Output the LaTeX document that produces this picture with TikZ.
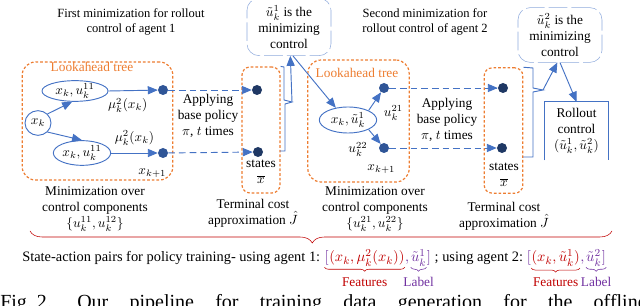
\documentclass[tikz,border=0pt]{standalone}
\usepackage{amsmath}
\usepackage{fontspec}
\setmainfont{Liberation Serif}
\usetikzlibrary{shapes.geometric, arrows, positioning, decorations.pathreplacing}
\definecolor{treeorange}{HTML}{ED7D31}
\definecolor{lineblue}{HTML}{4472C4}
\definecolor{leafblue}{HTML}{2F5597}
\definecolor{dotnavy}{HTML}{1F3864}
\definecolor{cloudblue}{HTML}{8FAADC}
\definecolor{featred}{HTML}{C00000}
\definecolor{labpurple}{HTML}{7030A0}
\tikzset{
    lookbox/.style = {
        rectangle, draw=treeorange,
        line width=0.9pt, dash pattern=on 2pt off 1.5pt,
        rounded corners=10pt
    },
    termbox/.style = {
        rectangle, draw=treeorange,
        line width=0.9pt, dash pattern=on 2pt off 1.5pt,
        rounded corners=6pt
    },
    callout/.style = {
        rectangle, draw=cloudblue, thin,
        dash pattern=on 14pt off 3pt,
        rounded corners=9pt,
        align=center, inner sep=0pt
    },
    stateell/.style = {
        ellipse, draw=lineblue, line width=0.7pt,
        inner sep=0pt
    },
    leaf/.style = {
        circle, fill=leafblue,
        inner sep=0pt, minimum size=7.5pt
    },
    termdot/.style = {
        circle, fill=dotnavy,
        inner sep=0pt, minimum size=7.5pt
    },
    treearrow/.style = {
        -triangle 45, draw=lineblue, line width=0.7pt
    },
    policyarrow/.style = {
        -triangle 45, draw=lineblue, line width=0.7pt,
        dash pattern=on 5pt off 3pt
    },
    bracketline/.style = {
        draw=lineblue, line width=0.7pt
    },
    note/.style = {
        align=center, inner sep=0pt
    },
    seg/.style = {
        inner sep=0pt, anchor=base west
    },
    bigbrace/.style = {
        featred, thin, decorate,
        decoration={brace, mirror, amplitude=9pt, aspect=0.485}
    },
    featbrace/.style = {
        featred, thin, decorate,
        decoration={brace, mirror, amplitude=3pt}
    },
    labbrace/.style = {
        labpurple, thin, decorate,
        decoration={brace, mirror, amplitude=3pt}
    }
}

\begin{document}
\begin{tikzpicture}[x=0.75pt, y=-0.75pt, font=\fontsize{10}{12}\selectfont]

\useasboundingbox (0,0) rectangle (640,306);
\clip (0,0) rectangle (640,306);

% titles and callouts
\node (title1) [note, font=\fontsize{9.4}{11.4}\selectfont] at (131,22) {First minimization for rollout\\control of agent 1};
\node (title2) [note, font=\fontsize{9.4}{11.4}\selectfont] at (425,22) {Second minimization for\\rollout control of agent 2};
\node (cloud1) [callout, minimum width=63pt, minimum height=43pt] at (289,27) {$\tilde{u}_k^1$ is the\\minimizing\\control};
\node (cloud2) [callout, minimum width=63pt, minimum height=41pt] at (560,35) {$\tilde{u}_k^2$ is the\\minimizing\\control};

% first lookahead tree
\node (look1) [lookbox, minimum width=113pt, minimum height=88.5pt] at (97.5,121) {};
\node (looklbl1) [text=treeorange] at (92,67) {Lookahead tree};
\node (xk) [stateell, minimum width=19.5pt, minimum height=18.5pt] at (38,123) {$x_k$};
\node (top1) [stateell, minimum width=49.5pt, minimum height=15.5pt] at (75,91) {$x_k, u_k^{11}$};
\node (bot1) [stateell, minimum width=43pt, minimum height=18.5pt] at (82,153) {$x_k, u_k^{11}$};
\node (leaf1a) [leaf] at (163,90) {};
\node (leaf1b) [leaf] at (163,153) {};
\node (next1) [below=4pt of leaf1b, xshift=-8pt] {$x_{k+1}$};

\draw [treearrow] (xk.north east) -- (top1.255);
\draw [treearrow] (xk.south east) -- (bot1.north);
\draw [treearrow] (top1.east) -- node[below=2pt, xshift=-4pt] {$\mu_k^2(x_k)$} (leaf1a);
\draw [treearrow] (bot1.east) -- node[above=2pt] {$\mu_k^2(x_k)$} (leaf1b);

\node (apply1) [note] at (208,116) {Applying\\base policy\\$\pi$, $t$ times};

% first terminal states
\node (term1) [termbox, minimum width=28.5pt, minimum height=94.5pt] at (261,130) {};
\node (tdot1a) [termdot] at (257,90) {};
\node (tdot1b) [termdot] at (258,152) {};
\node (states1) [note] at (261,172) {states\\$\overline{x}$};
\draw [policyarrow] (leaf1a) -- (tdot1a);
\draw [policyarrow] (leaf1b) -- (tdot1b);

\coordinate (tip1) at (292,102);
\draw [bracketline] (term1.north east) -- (284,67) -- (284,100) -- (tip1) -- (285,104) -- (285,151) -- (280,151);
\draw [treearrow] (tip1) -- ([xshift=1pt]cloud1.south);

% second lookahead tree
\node (look2) [lookbox, minimum width=76pt, minimum height=91.5pt] at (358.5,121) {};
\node (looklbl2) [text=treeorange] at (357,73) {Lookahead tree};
\node (el2) [stateell, minimum width=43pt, minimum height=19.5pt] at (348,120) {$x_k, \tilde{u}_k^1$};
\node (leaf2a) [leaf] at (384,88) {};
\node (leaf2b) [leaf] at (384,148) {};
\node (next2) [below=5pt of leaf2b, xshift=-2pt] {$x_{k+1}$};
\node (u21) [below=6pt of leaf2a, xshift=7pt] {$u_k^{21}$};
\node (u22) [left=5pt of leaf2b, yshift=-1pt] {$u_k^{22}$};

\draw [treearrow] ([xshift=3pt]cloud1.south) -- (el2.135);
\draw [treearrow] (el2.north east) -- (leaf2a);
\draw [treearrow] (el2.south east) -- (leaf2b);

\node (apply2) [note] at (447,120) {Applying\\base policy\\$\pi$, $t$ times};

% second terminal states
\node (term2) [termbox, minimum width=29pt, minimum height=94pt] at (503.5,130.5) {};
\node (tdot2a) [termdot] at (503,88) {};
\node (tdot2b) [termdot] at (502,148) {};
\node (states2) [note] at (504,175) {states\\$\overline{x}$};
\draw [policyarrow] (leaf2a) -- (tdot2a);
\draw [policyarrow] (leaf2b) -- (tdot2b);

\coordinate (tip2) at (543,90);
\draw [bracketline] (term2.north east) -- (533,68) -- (533,88) -- (tip2) -- (533,92) -- (533,157) -- (523,157);
\draw [treearrow] (tip2) -- ([xshift=-2pt]cloud2.south);

% rollout control
\node (rollout) [note, minimum width=47.3pt, minimum height=43.5pt] at (576.5,131) {Rollout\\control\\$(\tilde{u}_k^1, \tilde{u}_k^2)$};
\draw [bracketline] (rollout.south west) -- (rollout.north west) -- (rollout.north east) -- (rollout.south east);
\draw [treearrow] (cloud2.south) -- (rollout.north);

% captions under the stages
\node (minlbl1) [note] at (95,209) {Minimization over\\control components\\$\{u_k^{11}, u_k^{12}\}$};
\node (costlbl1) [note] at (253,213) {Terminal cost\\approximation $\hat{J}$};
\node (minlbl2) [note] at (375,209) {Minimization over\\control components\\$\{u_k^{21}, u_k^{22}\}$};
\node (costlbl2) [note] at (504,216) {Terminal cost\\approximation $\hat{J}$};

\coordinate (braceL) at (30,231);
\coordinate (braceR) at (612,231);
\draw [bigbrace] (braceL) -- (braceR);

% training pairs
\begin{scope}[font=\fontsize{10.8}{13}\selectfont]
\node (pairs) [seg] at (22,262) {State-action pairs for policy training- using agent 1:};
\node (lb1) [seg, text=labpurple] at ([xshift=3pt]pairs.base east) {$[$};
\node (ft1) [seg, text=featred] at (lb1.base east) {$(x_k,\mu_k^2(x_k))$};
\node (cm1) [seg, text=labpurple] at (ft1.base east) {$,$};
\node (lab1) [seg, text=labpurple] at ([xshift=1pt]cm1.base east) {$\tilde{u}_k^1$};
\node (rb1) [seg, text=labpurple] at (lab1.base east) {$]$};
\node (mid) [seg] at ([xshift=2.5pt]rb1.base east) {; using agent 2:};
\node (lb2) [seg, text=labpurple] at ([xshift=2.5pt]mid.base east) {$[$};
\node (ft2) [seg, text=featred] at (lb2.base east) {$(x_k,\tilde{u}_k^1)$};
\node (cm2) [seg, text=labpurple] at (ft2.base east) {$,$};
\node (lab2) [seg, text=labpurple] at ([xshift=1pt]cm2.base east) {$\tilde{u}_k^2$};
\node (rb2) [seg, text=labpurple] at (lab2.base east) {$]$};
\end{scope}

\draw [featbrace] ([yshift=-1pt]lb1.south west) -- node[below=4pt, text=featred] (feat1) {Features} ([yshift=-1pt]lb1.south west -| ft1.east);
\draw [labbrace] ([yshift=-1pt]lab1.south west |- lb1.south) -- node[below=4pt, text=labpurple] (label1) {Label} ([yshift=-1pt]lab1.east |- lb1.south);
\draw [featbrace] ([yshift=-1pt]ft2.south west) -- node[below=4pt, text=featred] (feat2) {Features} ([yshift=-1pt]ft2.south east);
\draw [labbrace] ([yshift=-1pt]lab2.west |- lb2.south) -- node[below=4pt, text=labpurple] (label2) {Label} ([yshift=-1pt]rb2.east |- lb2.south);

% figure caption, cut by the frame
\node (fignum) [seg, font=\fontsize{15}{18}\selectfont] at (0,309) {Fig.~2.};
\node (figcap) [seg, font=\fontsize{15}{18}\selectfont] at (77,309) {\hbox to 427pt{Our\hfill pipeline\hfill for\hfill training\hfill data\hfill generation\hfill for\hfill the\hfill offline}};

\end{tikzpicture}
\end{document}
